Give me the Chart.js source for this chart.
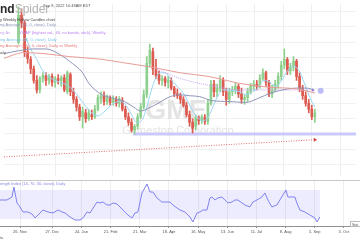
<!DOCTYPE html>
<html><head><meta charset="utf-8">
<script src="https://cdn.jsdelivr.net/npm/chart.js@4.4.0/dist/chart.umd.min.js"></script>
<style>
html,body{margin:0;padding:0;background:#fff;overflow:hidden}
#wrap{position:relative;width:360px;height:240px;background:#fff}
.p{position:absolute;left:0;width:360px}
</style></head><body>
<div id="wrap">
<div class="p" style="top:0;height:180px"><canvas id="c1" width="360" height="180"></canvas></div>
<div class="p" style="top:180px;height:60px"><canvas id="c2" width="360" height="60"></canvas></div>
</div>
<script>
// ---- axis ticks (days after 26 Nov 2021) ----
const tickDays = [0,31,59,87,115,143,171,199,227,255,283,311];
const tickLabels = ["26. Nov","27. Dec","24. Jan","21. Feb","21. Mar","18. Apr","16. May","13. Jun","11. Jul","8. Aug","5. Sep","3. Oct"];
const priceGrid = [10,15,20,25,30,35,40,45,50,55,60];

// ---- candles ----
const candleDays = [-5,-2,1,4,7,10,13,16,19,22,25,28,31,34,37,40,43,46,49,52,55,58,61,64,67,70,73,76,79,82,85,88,91,94,97,100,103,106,109,112,115,118,121,124,127,130,133,136,139,142,145,148,151,154,157,160,163,166,169,172,175,178,181,184,187,190,193,196,199,202,205,208,211,214,217,220,223,226,229,232,235,238,241,244,247,250,253,256,259,262,265,268,271,274,277,280,283,286];
const opens = [50.0,58.8,56.3,46.9,44.4,41.3,37.5,34.4,38.1,39.1,
37.5,38.8,36.9,38.1,37.5,38.4,33.8,39.4,33.8,31.3,
28.8,25.6,26.9,25.0,26.3,25.6,28.1,31.6,32.5,30.6,
31.9,30.3,31.3,30.0,30.9,28.1,25.6,23.8,21.3,22.5,
25.6,28.8,32.8,43.1,46.9,41.3,39.4,37.5,38.1,36.9,
37.5,35.0,33.1,32.5,31.3,29.4,26.3,23.8,22.5,25.0,
24.4,25.3,24.1,30.0,36.3,33.8,35.0,37.5,33.8,31.3,
33.8,34.4,35.6,33.1,31.3,31.9,33.8,35.6,36.3,35.6,
38.1,40.0,36.9,33.1,34.4,36.3,38.8,42.5,44.4,40.6,
41.9,43.8,38.8,35.0,32.5,30.0,28.1,25.6];
const highs = [61.6,60.9,56.9,48.4,45.3,42.2,39.1,38.8,40.0,40.0,
39.4,39.7,38.8,39.4,39.1,39.4,40.6,40.0,35.0,32.2,
29.7,28.8,28.1,28.1,27.8,29.4,32.8,33.8,33.8,32.8,
32.5,32.5,32.2,32.2,31.9,29.1,26.9,25.0,23.1,26.6,
30.0,34.4,45.3,49.4,48.1,44.4,40.6,39.1,38.8,38.8,
38.4,35.6,34.7,33.4,32.2,30.3,27.5,25.0,26.3,25.9,
26.3,26.3,31.3,37.5,37.5,36.3,39.1,38.4,35.0,35.0,
35.6,36.9,36.3,35.0,32.8,35.0,36.6,37.5,37.5,39.4,
41.3,40.6,37.5,35.9,37.5,40.0,43.8,47.8,45.0,43.1,
45.3,44.4,40.0,35.9,33.8,31.3,29.4,28.1];
const lows = [49.4,54.7,45.3,43.1,39.7,36.6,33.4,33.4,36.9,35.9,
36.3,35.6,35.3,36.3,35.6,33.8,33.1,32.5,30.0,27.5,
24.4,21.9,23.8,24.4,24.7,25.0,27.5,30.0,29.4,29.7,
29.4,29.4,29.1,28.8,27.5,24.7,22.8,20.6,20.0,21.6,
25.0,28.1,31.9,41.9,39.4,38.1,36.3,35.9,35.6,35.0,
34.4,32.2,31.6,30.0,28.8,25.6,22.5,20.3,21.3,23.1,
23.4,23.1,23.1,29.4,32.2,32.2,33.8,32.5,29.4,30.0,
32.5,33.1,31.9,30.0,29.7,30.6,33.1,34.4,34.4,35.0,
37.5,35.6,32.2,31.9,33.8,35.0,37.5,41.3,39.4,39.4,
40.6,37.5,33.8,31.3,29.1,26.9,24.7,23.8];
const closes = [58.8,56.3,46.9,44.7,41.3,37.5,34.4,38.1,39.1,37.5,
38.8,36.9,38.1,37.5,38.4,34.4,40.0,33.8,31.3,28.8,
25.6,27.5,25.0,26.9,25.6,28.1,31.9,32.5,30.6,31.9,
30.3,31.6,30.0,31.3,28.1,25.6,23.8,21.3,22.5,25.6,
28.8,32.8,43.1,47.5,41.3,39.1,37.5,38.1,36.9,37.5,
35.0,33.1,32.5,31.3,29.4,26.3,23.8,21.9,25.0,24.4,
25.3,24.1,30.0,36.3,33.8,35.0,37.5,33.8,31.3,33.8,
34.4,35.6,33.1,31.3,31.9,33.8,35.6,36.3,35.6,38.1,
40.0,36.9,33.1,34.4,36.3,38.8,42.5,44.4,40.6,41.9,
43.8,38.8,35.0,32.5,30.0,28.1,25.6,26.9];

// ---- overlays ----
const ma50Days = [-19,-5,10,22,34,45,58,64,77,86,99,108,115,125,132,144,154,163,173,185,202,218,230,243,259,269,278,285];
const ma50Vals = [46.3,47.2,47.8,47.8,46.3,43.8,40.0,36.6,32.8,31.9,30.6,28.8,27.5,28.8,30.0,32.2,32.8,32.5,32.2,30.9,30.6,30.3,31.6,33.4,34.7,35.0,35.0,34.4];
const ma10Days = [2,7,12.5,19,26,35.5,43,50,57.6,65,73,80,86,93,99,105.6,111,116,121,125,129.6,134.4,139,144,151.6,158,164,170,175.6,180.4,185,190,195.8,201.5,207.3,213,218.8,224.6,230.3,236,241.8,247.6,253.4,259,265,270.6,275.4,281.2,286];
const ma10Vals = [51.6,47.8,44.7,40.6,38.4,36.9,35.9,33.8,30.6,27.5,25.9,27.5,29.4,30.6,30.0,26.6,23.8,24.4,28.8,33.8,38.1,40.0,40.0,38.1,35.3,32.8,28.8,25.6,24.4,25.0,28.1,31.9,34.4,34.4,34.1,33.8,32.8,33.8,35.0,37.5,36.9,35.6,37.5,40.6,42.2,40.6,36.9,31.9,28.8];
const ma200Days = [-19.2,-9.6,0,19,45,77,96,125,154,182,211,240,269,286];
const ma200Vals = [44.7,45.9,46.6,46.3,45.3,44.4,43.4,41.9,40.0,38.8,36.6,35.3,34.7,33.4];
const vwapDays = [129.6,139.2,151.6,167.9,191.9,211.1,239.9,268.7,284.1];
const vwapVals = [41.3,40.0,38.4,36.9,35.3,34.4,34.4,34.4,34.4];
const supportDays = [107.5,326.4];
const supportVals = [20.0,20.0];
const trendDays = [-19.2,286];
const trendVals = [12.5,18.1];
const markerDay = [291.7];
const markerVal = [34.1];

// ---- RSI ----
const rsiDays = [-19.2,-12.5,-7.7,-5.8,-2.9,0,2.9,7.7,11.5,14.4,17.3,22.1,26.9,31.7,36.5,40.3,43.2,48,52.8,57.6,60.5,64.3,67.2,73.9,76.8,79.7,83.5,86.4,89.3,93.1,96,98.8,103.6,107.5,110.4,113.2,117.1,121.9,124.8,127.6,131.5,136.3,141.1,144,146.8,150.7,153.6,158.3,163.1,166,169.9,172.7,175.6,179.5,182.3,184.3,187.1,190,193.9,196.7,199.6,203.5,206.3,209.2,213.1,215.9,220.7,223.6,227.4,232.2,235.1,238,241.8,246.6,249.5,252.4,255.3,257.2,261,263.9,265.8,268.7,273.5,278.3,283.1,285,287.9];
const rsiVals = [56.2,56.2,60.3,74.1,52.1,46.6,39.7,39.7,36.9,31.4,35.5,42.4,39.7,38.3,42.4,39.7,38.3,32.8,28.6,28.6,31.4,39.7,38.3,53.4,52.1,53.4,49.3,49.3,52.1,50.7,46.6,42.4,35.5,31.4,38.3,39.7,65.9,78.3,67.2,67.2,59.0,53.4,53.4,53.4,49.3,45.2,42.4,39.7,32.8,25.9,38.3,39.7,42.4,42.4,59.0,60.3,56.2,59.0,60.3,56.2,52.1,53.4,56.2,56.2,52.1,49.3,46.6,53.4,56.2,60.3,65.9,56.2,46.6,49.3,56.2,63.1,70.0,60.3,60.3,60.3,52.1,42.4,39.7,35.5,31.4,25.9,32.8];
const rsiBandDays = [-19.2,288];
const rsiUpper = [70,70];
const rsiLower = [30,30];

const X_MIN = -19.2, X_MAX = 326.4;
const FONT = '"Liberation Sans", Arial, sans-serif';
const UP = '#8fd08f', DOWN = '#dc5a50';

function pts(xs, ys){ return xs.map((x,i)=>({x:x, y:ys[i]})); }
const candleColors = closes.map((c,i)=> c>=opens[i] ? UP : DOWN);

function cropText(ctx, prefix, text, y, color, size, bold){
  ctx.font = (bold?'bold ':'') + size + 'px ' + FONT;
  const w = ctx.measureText(prefix).width;
  ctx.fillStyle = color;
  ctx.fillText(prefix + text, -w, y);
}

const mainPlugin = {
  id:'mainDeco',
  beforeDatasetsDraw(chart){
    const ctx = chart.ctx; ctx.save();
    ctx.textAlign = 'center'; ctx.textBaseline = 'alphabetic';
    ctx.fillStyle = '#e4e4e4';
    ctx.font = 'bold 27px ' + FONT;
    ctx.fillText('GME', 176, 119);
    ctx.font = '11px ' + FONT;
    ctx.fillText('Gamestop Corporation', 178, 134);
    ctx.restore();
  },
  afterDraw(chart){
    const ctx = chart.ctx; ctx.save();
    ctx.textAlign = 'left'; ctx.textBaseline = 'alphabetic';
    // logo
    ctx.font = 'bold 12px ' + FONT;
    const wTre = ctx.measureText('Tre').width;
    ctx.fillStyle = '#2b2b2b';
    ctx.fillText('Trend', -wTre, 13);
    const wTrend = ctx.measureText('Trend').width;
    ctx.font = '12px ' + FONT;
    ctx.fillStyle = '#b4b4b4';
    ctx.fillText('Spider', -wTre + wTrend, 13);
    ctx.font = '4px ' + FONT;
    ctx.fillStyle = '#555';
    ctx.fillText('Sep 8, 2022 10:48AM EDT', 43, 7);
    cropText(ctx, 'GME Dail', 'y Weekly Hollow Candles chart', 20.5, '#444', 4);
    cropText(ctx, 'Simple Movi', 'ng Average (50, 0, close), Daily', 26, '#8a92b8', 4);
    cropText(ctx, 'Simple Movi', 'ng Av', 34, '#c9a6f0', 4);
    ctx.fillStyle = '#b77ef0'; ctx.font = '4px ' + FONT;
    ctx.fillText('VWAP (highest vol., 40, no bands, stick), Weekly', 19, 34);
    cropText(ctx, 'Simple Mov', 'ing Average (10, 0, close), Daily', 40.5, '#78c4ec', 4);
    cropText(ctx, 'Simple Movi', 'ng Average (200, 0, close), Daily vs Weekly', 47, '#e07a74', 4);
    cropText(ctx, 'Volume, D', 'aily', 53.5, '#555', 4);
    ctx.restore();
  }
};

const lineBase = {type:'line', pointRadius:0, borderWidth:1, fill:false, cubicInterpolationMode:'monotone', order:0};

new Chart(document.getElementById('c1'), {
  type:'bar',
  data:{ datasets:[
    Object.assign({}, lineBase, {data:pts(supportDays, supportVals), borderColor:'#c9c9fb', borderWidth:3, cubicInterpolationMode:'default', tension:0, order:6}),
    Object.assign({}, lineBase, {data:pts(trendDays, trendVals), borderColor:'#e06a6a', borderDash:[1,1.5], tension:0, cubicInterpolationMode:'default',
        pointRadius:[0,2.2], pointStyle:'triangle', rotation:90, pointBackgroundColor:'#d84040', pointBorderWidth:0}),
    Object.assign({}, lineBase, {data:pts(ma200Days, ma200Vals), borderColor:'#e89a95'}),
    Object.assign({}, lineBase, {data:pts(ma50Days, ma50Vals), borderColor:'#8e95b8'}),
    Object.assign({}, lineBase, {data:pts(vwapDays, vwapVals), borderColor:'#c6a4f2', borderDash:[1,1],
        pointRadius:[0,0,0,0,0,0,0,0,2], pointStyle:'triangle', rotation:90, pointBackgroundColor:'#a070e8', pointBorderWidth:0}),
    Object.assign({}, lineBase, {data:pts(ma10Days, ma10Vals), borderColor:'#9ad6f2'}),
    {type:'scatter', data:pts(markerDay, markerVal), pointRadius:3, pointBackgroundColor:'#bcbcf8', pointBorderWidth:0, order:0},
    {type:'bar', data:candleDays.map((d,i)=>({x:d, y:[lows[i], highs[i]]})), backgroundColor:candleColors, barThickness:1, grouped:false, borderWidth:0, order:3},
    {type:'bar', data:candleDays.map((d,i)=>({x:d, y:[opens[i], closes[i]]})), backgroundColor:candleColors, barThickness:2, minBarLength:1, grouped:false, borderWidth:0, order:2}
  ]},
  options:{
    responsive:false, animation:false, events:[],
    layout:{padding:0},
    plugins:{legend:{display:false}, tooltip:{enabled:false}},
    scales:{
      x:{type:'linear', min:X_MIN, max:X_MAX, offset:false, display:true,
         border:{display:false}, grid:{color:'#eeeeee', drawTicks:false, offset:false},
         ticks:{display:false},
         afterBuildTicks:s=>{ s.ticks = tickDays.map(v=>({value:v})); },
         afterFit:s=>{ s.height = 0; }},
      y:{type:'linear', min:6.25, max:62.5, display:true,
         border:{display:false}, grid:{color:'#f1f1f1', drawTicks:false},
         ticks:{display:false},
         afterBuildTicks:s=>{ s.ticks = priceGrid.map(v=>({value:v})); },
         afterFit:s=>{ s.width = 0; }}
    }
  },
  plugins:[mainPlugin]
});

const rsiPlugin = {
  id:'rsiDeco',
  afterDraw(chart){
    const ctx = chart.ctx; ctx.save();
    ctx.strokeStyle = '#c8c8c8'; ctx.lineWidth = 1;
    ctx.beginPath(); ctx.moveTo(0, 0.5); ctx.lineTo(360, 0.5); ctx.stroke();
    ctx.textAlign = 'left'; ctx.textBaseline = 'alphabetic';
    cropText(ctx, 'Relative Str', 'ength Index (14, 70, 30, close), Daily', 5, '#8585e6', 4);
    ctx.font = '4px ' + FONT; ctx.fillStyle = '#666';
    ctx.fillText('ta', 0, 59);
    ctx.strokeStyle = '#bbb'; ctx.fillStyle = '#fff';
    ctx.fillRect(350.5, 41.5, 10, 5); ctx.strokeRect(350.5, 41.5, 10, 5);
    ctx.fillStyle = '#555'; ctx.font = '3.5px ' + FONT;
    ctx.fillText('Stat', 352, 45.5);
    ctx.restore();
  }
};

new Chart(document.getElementById('c2'), {
  type:'line',
  data:{ datasets:[
    {data:pts(rsiBandDays, rsiUpper), borderWidth:0, pointRadius:0, fill:false, borderColor:'rgba(0,0,0,0)'},
    {data:pts(rsiBandDays, rsiLower), borderWidth:0, pointRadius:0, fill:'-1', borderColor:'rgba(0,0,0,0)', backgroundColor:'rgba(150,150,250,0.18)'},
    {data:pts(rsiDays, rsiVals), borderColor:'#7d7def', borderWidth:1, pointRadius:0, fill:false, tension:0}
  ]},
  options:{
    responsive:false, animation:false, events:[],
    layout:{padding:{top:1, left:0, right:0, bottom:0}},
    plugins:{legend:{display:false}, tooltip:{enabled:false}},
    scales:{
      x:{type:'linear', min:X_MIN, max:X_MAX, offset:false, display:true,
         border:{display:true, color:'#909090', width:1},
         grid:{color:'#eeeeee', drawTicks:true, tickLength:2, tickColor:'#909090'},
         ticks:{font:{size:4, family:FONT}, color:'#555', padding:1, autoSkip:false, maxRotation:0,
           callback:(v)=>{ const i = tickDays.indexOf(v); return i>=0 ? tickLabels[i] : ''; }},
         afterBuildTicks:s=>{ s.ticks = tickDays.map(v=>({value:v})); },
         afterFit:s=>{ s.height = 14; }},
      y:{type:'linear', min:20.34, max:82.41, display:false}
    }
  },
  plugins:[rsiPlugin]
});
</script>
</body></html>
